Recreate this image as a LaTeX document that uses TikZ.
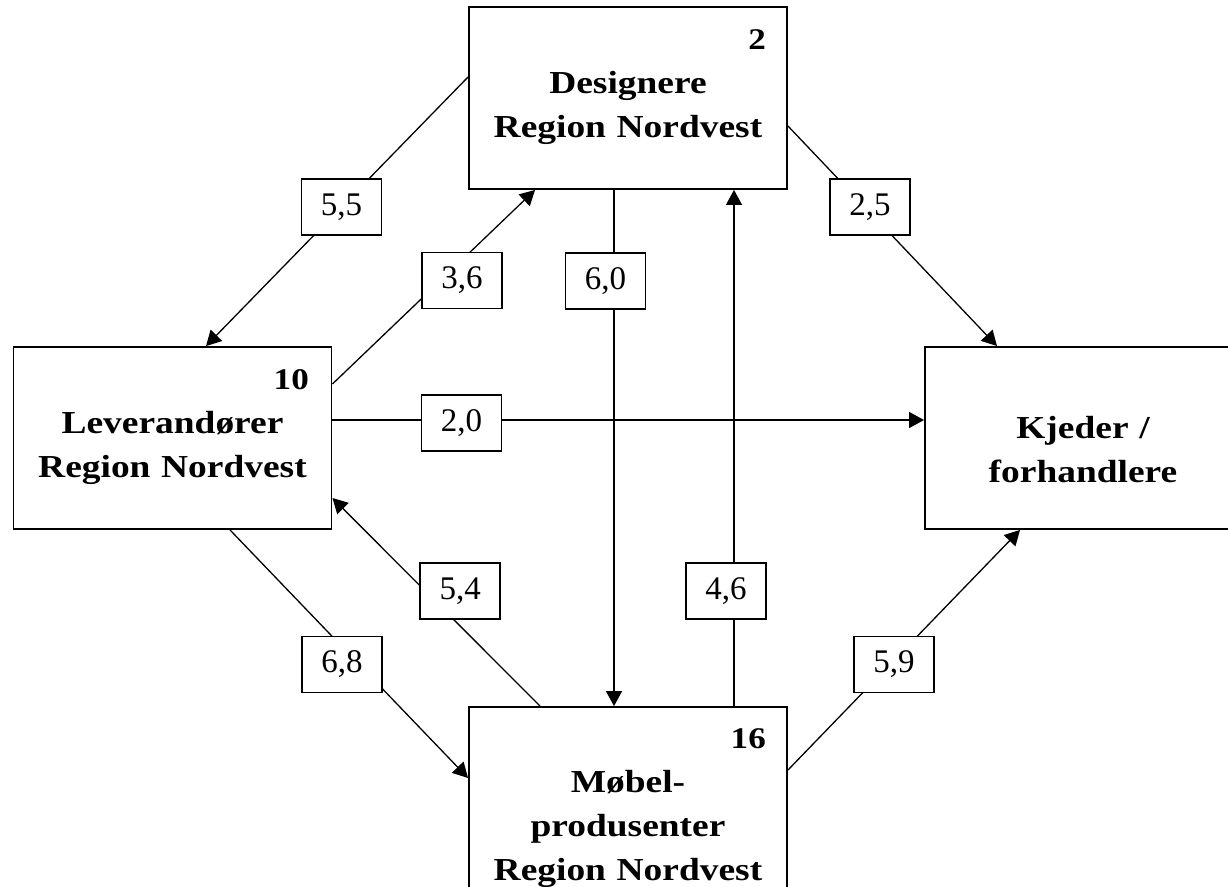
\documentclass[tikz,border=0pt]{standalone}
\usepackage{fontspec}
\setmainfont{Liberation Serif}
\newfontfamily\boksfont{Liberation Serif}[FakeStretch=1.17]
\usetikzlibrary{arrows.meta}

\tikzset{
  boks/.style={draw, line width=1.9pt, minimum width=318pt, minimum height=182pt, inner sep=0pt},
  navn/.style={text width=318pt, align=center, anchor=base, inner sep=0pt,
    font=\boksfont\bfseries\fontsize{32}{44}\selectfont},
  antall/.style={anchor=base east, inner sep=0pt, font=\boksfont\bfseries\fontsize{30}{36}\selectfont},
  tall/.style={draw, fill=white, line width=1.5pt, minimum width=80pt, minimum height=56pt,
    inner sep=0pt, font=\fontsize{33}{40}\selectfont},
  pil/.style={line width=1.3pt, -{Triangle[length=15pt,width=16pt]}}
}

\begin{document}
\begin{tikzpicture}[x=1pt, y=-1pt]
    \useasboundingbox (0,0) rectangle (1228,886);
    \node[boks] (des) at (628,98) {};
    \node[boks] (lev) at (172.5,438) {};
    \node[boks] (kje) at (1084,438) {};
    \node[boks] (mob) at (628,798) {};
    \node[navn] (tdes) at (628,93) {Designere\\Region Nordvest};
    \node[navn] (tlev) at (172.5,433) {Leverandører\\Region Nordvest};
    \node[navn] (tkje) at (1083,438) {Kjeder /\\forhandlere};
    \node[navn] (tmob) at (628,792) {Møbel-\\produsenter\\Region Nordvest};
    \node[antall] (ndes) at (766,49) {2};
    \node[antall] (nlev) at (309,389) {10};
    \node[antall] (nmob) at (766,748) {16};
    \draw[pil] ([yshift=21pt]des.west) -- node[tall,pos=.483] (l55) {5,5} ([xshift=33.5pt]lev.north);
    \draw[pil] ([yshift=54pt]lev.east) -- node[tall,pos=.533,xshift=21.5pt] (l36) {3,6} ([xshift=-93pt]des.south);
    \draw[pil] ([yshift=-28pt]des.east) -- node[tall,pos=.369,xshift=5pt] (l25) {2,5} ([xshift=-87pt]kje.north);
    \draw[pil] ([yshift=18pt]lev.east) -- node[tall,pos=.218,yshift=-3pt] (l20) {2,0} ([yshift=18pt]kje.west);
    \draw[pil] ([xshift=-14pt]des.south) -- node[tall,pos=.176,xshift=-8.5pt] (l60) {6,0} ([xshift=-14pt]mob.north);
    \draw[pil] ([xshift=106pt]mob.north) -- node[tall,pos=.223,xshift=-8pt] (l46) {4,6} ([xshift=106pt]des.south);
    \draw[pil] ([xshift=-88pt]mob.north) -- node[tall,pos=.553,xshift=35pt] (l54) {5,4} ([yshift=-60pt]lev.east);
    \draw[pil] ([xshift=57.5pt]lev.south) -- node[tall,pos=.542,xshift=-17pt] (l68) {6,8} ([yshift=20pt]mob.west);
    \draw[pil] ([yshift=28pt]mob.east) -- node[tall,pos=.44,xshift=4pt] (l59) {5,9} ([xshift=-64pt]kje.south);
\end{tikzpicture}
\end{document}
